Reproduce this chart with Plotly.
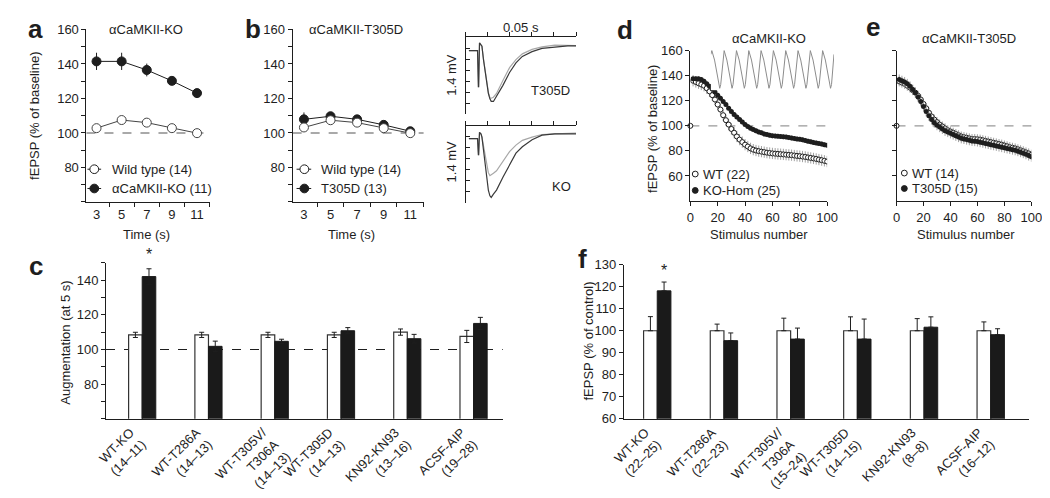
import plotly.graph_objects as go

W, H = 1050, 498
FONT = "Liberation Sans, Arial, Helvetica, sans-serif"
INK = "#1e1e1e"

# ---------------- panels a / b : augmentation vs time
time_s = [3, 5, 7, 9, 11]
a_wt = [102.8, 107.5, 106.0, 102.8, 99.9]
a_wt_err = [1.0, 1.0, 1.0, 1.0, 1.0]
a_ko = [141.5, 141.5, 136.5, 130.2, 123.1]
a_ko_err = [5.0, 5.0, 3.7, 1.5, 2.0]
b_wt = [103.2, 107.4, 106.0, 102.8, 99.9]
b_wt_err = [1.0, 1.0, 1.0, 1.0, 1.0]
b_t305d = [107.9, 109.7, 107.9, 104.7, 101.0]
b_t305d_err = [4.0, 1.5, 1.5, 1.5, 1.5]

# ---------------- panel b insets : example fEPSP traces (ms, mV)
trace_ms = [1.5, 5.4, 5.8, 5.9, 6.3, 7.0, 7.4, 8.1, 9.3, 10.3, 11.0, 11.6, 12.6,
            14.0, 16.9, 19.9, 22.8, 25.7, 30.1, 34.6, 40.4, 46.3, 50.0]
t305d_mut = [-0.245, -0.245, -0.90, -0.90, -0.105, -0.15, -0.163, -0.41, -0.76, -1.02,
             -1.12, -1.165, -1.167, -1.079, -0.875, -0.642, -0.467, -0.35, -0.263,
             -0.204, -0.175, -0.158, -0.158]
t305d_wt = [-0.245, -0.245, -0.90, -0.90, -0.105, -0.15, -0.163, -0.40, -0.74, -1.0,
            -1.10, -1.108, -1.09, -1.021, -0.788, -0.554, -0.408, -0.303, -0.222,
            -0.175, -0.146, -0.146, -0.152]
ko_mut = [-0.233, -0.233, -0.525, -0.525, -0.117, -0.15, -0.204, -0.438, -0.846, -1.167,
          -1.27, -1.30, -1.24, -1.167, -0.933, -0.70, -0.496, -0.379, -0.251, -0.169,
          -0.146, -0.146, -0.146]
ko_wt = [-0.233, -0.233, -0.525, -0.525, -0.117, -0.15, -0.204, -0.379, -0.671, -0.85,
         -0.904, -0.89, -0.86, -0.817, -0.642, -0.467, -0.35, -0.263, -0.204, -0.158,
         -0.146, -0.146, -0.134]

# ---------------- panels d / e : depression during a train
stim = list(range(2, 101, 2))
d_ko = [137.5, 137.5, 137.5, 137, 135.5, 133.5, 131.5, 129.5, 127, 124.5,
        122, 119.5, 117, 114, 111.5, 109, 107, 105, 103, 101,
        99.5, 98, 97, 96, 95, 94.5, 93.5, 93, 92.5, 92,
        91.8, 91.6, 91.5, 91.3, 91, 90.6, 90.2, 89.8, 89.5, 89.2,
        88.8, 88.3, 87.8, 87.3, 86.8, 86.4, 86, 85.5, 85, 84.5]
d_wt = [136, 135, 134, 133, 132, 130, 127.5, 124.5, 121, 117,
        113, 108.5, 104.5, 101, 97.5, 94.5, 91.5, 89, 87, 85,
        83.5, 82, 81, 80.3, 79.8, 79.4, 79, 78.6, 78.3, 78,
        77.8, 77.6, 77.4, 77.2, 77, 76.8, 76.6, 76.3, 76, 75.8,
        75.5, 75.2, 74.8, 74.4, 74, 73.6, 73.1, 72.6, 72.1, 71.5]
e_t305d = [137, 136, 135, 133.5, 131.5, 129, 126.5, 123, 119.5, 115.5,
           111.5, 108, 105, 102.5, 100.5, 99, 97.5, 96, 95, 94,
           93, 92, 91, 90, 89.5, 89, 88.5, 88, 87.8, 87.5,
           87, 86.5, 86, 85.5, 85, 84.5, 84, 83.5, 83, 82.5,
           82, 81.5, 81, 80.5, 79.8, 79, 78.2, 77.3, 76.3, 75.3]
e_wt = [135.5, 134.5, 133.5, 132, 130.5, 128.5, 126.5, 124, 121, 117.5,
        114, 110.5, 107.5, 105, 103, 101, 99.5, 98, 96.5, 95.5,
        94.5, 93.5, 92.5, 91.5, 91, 90.5, 90, 89.5, 89.5, 89.3,
        89, 88.5, 88, 87.5, 87, 86.5, 86, 85.5, 85, 84.3,
        83.7, 83, 82.5, 82, 81.3, 80.5, 79.7, 78.8, 78, 77]
d_ko_err = 2.0
d_wt_err = 4.5
e_err = 4.0
baseline_stim = [0]
baseline_val = [100]

# panel d inset : train of responses
spike_times = [0, 1, 2, 3, 4, 5, 6, 7, 8, 9]
spike_phase = [0.0, 0.08, 0.3, 0.55, 0.72, 0.8, 1.0]
spike_level = [0.9, 1.0, 0.75, 0.35, 0.0, 0.1, 0.9]

# ---------------- panels c / f : bar summaries
c_labels = ["WT-KO<br>(14–11)", "WT-T286A<br>(14–13)", "WT-T305V/<br>T306A<br>(14–13)",
            "WT-T305D<br>(14–13)", "KN92-KN93<br>(13–16)", "ACSF-AIP<br>(19–28)"]
c_white = [108.4, 108.4, 108.4, 108.4, 110.0, 107.5]
c_white_err = [1.5, 1.5, 1.5, 1.5, 1.8, 3.5]
c_black = [142.0, 101.8, 104.7, 110.8, 106.2, 115.0]
c_black_err = [4.5, 3.0, 1.2, 1.8, 2.5, 3.5]

f_labels = ["WT-KO<br>(22–25)", "WT-T286A<br>(22–23)", "WT-T305V/<br>T306A<br>(15–24)",
            "WT-T305D<br>(14–15)", "KN92-KN93<br>(8–8)", "ACSF-AIP<br>(16–12)"]
f_white = [100, 100, 100, 100, 100, 100]
f_white_err = [6.4, 3.0, 5.7, 6.3, 5.5, 4.0]
f_black = [118.1, 95.5, 96.2, 96.2, 101.6, 98.2]
f_black_err = [4.0, 3.5, 5.0, 9.1, 4.7, 2.7]
groups = list(range(len(c_labels)))


def xd(left, right):
    return [left / W, right / W]


def yd(top, bottom):
    return [1 - bottom / H, 1 - top / H]


def ax(**kw):
    base = dict(showline=True, linecolor=INK, linewidth=1, ticks="outside", ticklen=4,
                tickcolor=INK, showgrid=False, zeroline=False,
                tickfont=dict(family=FONT, size=13, color=INK))
    base.update(kw)
    return base


fig = go.Figure()


def time_course(xa, ya, wt, wt_err, mut, mut_err):
    fig.add_trace(go.Scatter(x=time_s, y=mut, mode="lines+markers", xaxis=xa, yaxis=ya,
                             line=dict(color=INK, width=1),
                             marker=dict(size=9, color=INK, line=dict(color=INK, width=1)),
                             error_y=dict(array=mut_err, color=INK, thickness=1, width=0)))
    fig.add_trace(go.Scatter(x=time_s, y=wt, mode="lines+markers", xaxis=xa, yaxis=ya,
                             line=dict(color="#444", width=1),
                             marker=dict(size=9, color="white", line=dict(color="#444", width=1)),
                             error_y=dict(array=wt_err, color="#444", thickness=1, width=0)))


time_course("x", "y", a_wt, a_wt_err, a_ko, a_ko_err)
time_course("x2", "y2", b_wt, b_wt_err, b_t305d, b_t305d_err)

for xa, ya, wt, mut in [("x3", "y3", t305d_wt, t305d_mut), ("x4", "y4", ko_wt, ko_mut)]:
    fig.add_trace(go.Scatter(x=trace_ms, y=wt, mode="lines", xaxis=xa, yaxis=ya,
                             line=dict(color="#a8a8a8", width=1.2)))
    fig.add_trace(go.Scatter(x=trace_ms, y=mut, mode="lines", xaxis=xa, yaxis=ya,
                             line=dict(color="#3a3a3a", width=1.2)))


def train(xa, ya, wt, wt_err, mut, mut_err):
    fig.add_trace(go.Scatter(x=stim, y=wt, mode="markers", xaxis=xa, yaxis=ya,
                             marker=dict(size=5, color="white", line=dict(color=INK, width=1)),
                             error_y=dict(type="constant", value=wt_err, color="#8a8a8a",
                                          thickness=0.8, width=0)))
    fig.add_trace(go.Scatter(x=stim, y=mut, mode="markers", xaxis=xa, yaxis=ya,
                             marker=dict(size=5, color=INK),
                             error_y=dict(type="constant", value=mut_err, color="#8a8a8a",
                                          thickness=0.8, width=0)))
    fig.add_trace(go.Scatter(x=baseline_stim, y=baseline_val, mode="markers", xaxis=xa,
                             yaxis=ya, cliponaxis=False,
                             marker=dict(size=5, color="white", line=dict(color=INK, width=1))))


train("x5", "y5", d_wt, d_wt_err, d_ko, d_ko_err)
train("x7", "y7", e_wt, e_err, e_t305d, e_err)

sx, sy = [], []
for t0 in spike_times:
    sx += [t0 + p for p in spike_phase]
    sy += spike_level
fig.add_trace(go.Scatter(x=sx, y=sy, mode="lines", xaxis="x6", yaxis="y6",
                         line=dict(color="#8c8c8c", width=1)))


def bars(xa, ya, white, white_err, black, black_err, sym):
    fig.add_trace(go.Bar(x=groups, y=white, width=0.205, offset=-0.205, xaxis=xa, yaxis=ya,
                         marker=dict(color="white", line=dict(color="#333", width=1.2)),
                         error_y=dict(array=white_err,
                                      arrayminus=white_err if sym else [0] * len(groups),
                                      color=INK, thickness=1, width=2.5)))
    fig.add_trace(go.Bar(x=groups, y=black, width=0.205, offset=0, xaxis=xa, yaxis=ya,
                         marker=dict(color="#1a1a1a", line=dict(color="#1a1a1a", width=1)),
                         error_y=dict(array=black_err,
                                      arrayminus=black_err if sym else [0] * len(groups),
                                      color=INK, thickness=1, width=2.5)))


bars("x8", "y8", c_white, c_white_err, c_black, c_black_err, True)
bars("x9", "y9", f_white, f_white_err, f_black, f_black_err, False)

# ---------------- axes
hidden = dict(visible=False)
fig.update_layout(
    xaxis=ax(domain=xd(67, 193), range=[2.2, 12], anchor="y", tickvals=time_s, ticklen=0,
             minor=dict(tickvals=[4, 6, 8, 10, 12], ticks="outside", ticklen=4, tickcolor=INK)),
    yaxis=ax(domain=yd(15, 194), range=[60, 160], anchor="x", tickvals=[80, 100, 120, 140, 160],
             minor=dict(dtick=10, ticks="outside", ticklen=4, tickcolor=INK)),
    xaxis2=ax(domain=xd(278, 412), range=[2.15, 12], anchor="y2", tickvals=time_s, ticklen=0,
              minor=dict(tickvals=[4, 6, 8, 10, 12], ticks="outside", ticklen=4, tickcolor=INK)),
    yaxis2=ax(domain=yd(15, 194), range=[60, 160], anchor="x2", tickvals=[80, 100, 120, 140, 160],
              minor=dict(dtick=10, ticks="outside", ticklen=4, tickcolor=INK)),
    xaxis3=ax(domain=xd(455, 568), range=[0, 50], anchor="y3", side="top", dtick=10,
              showticklabels=False),
    yaxis3=ax(domain=yd(23, 103), range=[-1.4, 0], anchor="x3", dtick=0.2, ticks="inside",
              showticklabels=False),
    xaxis4=ax(domain=xd(455, 568), range=[0, 50], anchor="y4", side="top", dtick=10,
              showticklabels=False),
    yaxis4=ax(domain=yd(115, 195), range=[-1.4, 0], anchor="x4", dtick=0.2, ticks="inside",
              showticklabels=False),
    xaxis5=ax(domain=xd(685, 825), range=[0, 100], anchor="y5", dtick=20),
    yaxis5=ax(domain=yd(37, 193), range=[40, 160], anchor="x5", tickvals=[60, 80, 100, 120, 140, 160]),
    xaxis6=dict(domain=xd(706, 832), range=[0, 10], anchor="y6", **hidden),
    yaxis6=dict(domain=yd(35, 78), range=[-0.05, 1.05], anchor="x6", **hidden),
    xaxis7=ax(domain=xd(896, 1034), range=[0, 100], anchor="y7", dtick=20),
    yaxis7=ax(domain=yd(37, 193), range=[40, 160], anchor="x7", tickvals=[60, 80, 100, 120, 140, 160],
              showticklabels=False),
    xaxis8=ax(domain=xd(87, 493), range=[-0.546, 5.44], anchor="y8", tickvals=groups,
              ticktext=c_labels, ticks="", tickangle=-45, ticklabelshift=-12),
    yaxis8=ax(domain=yd(257, 419), range=[60, 150], anchor="x8", tickvals=[80, 100, 120, 140],
              minor=dict(dtick=10, ticks="outside", ticklen=4, tickcolor=INK)),
    xaxis9=ax(domain=xd(617, 1032), range=[-0.5, 5.58], anchor="y9", tickvals=groups,
              ticktext=f_labels, ticks="", tickangle=-45, ticklabelshift=-12),
    yaxis9=ax(domain=yd(259, 419), range=[60, 130], anchor="x9", dtick=10, tick0=70),
)

# ---------------- reference lines at 100 %
dash_specs = [("x", "y", "#555", "dash"), ("x2", "y2", "#555", "dash"),
              ("x5", "y5", "#999", "dash"), ("x7", "y7", "#999", "dash"),
              ("x8", "y8", INK, "dash")]
for xa, ya, col, dash in dash_specs:
    fig.add_shape(type="line", xref=f"{xa} domain", yref=ya, x0=0, x1=1, y0=100, y1=100,
                  line=dict(color=col, width=1.1, dash=dash), layer="below")

# ---------------- texts
def txt(s, x, y, size=13, angle=0, xanchor="center", bold=False, color=INK):
    fig.add_annotation(text=f"<b>{s}</b>" if bold else s, x=x / W, y=1 - y / H,
                       xref="paper", yref="paper", showarrow=False, textangle=angle,
                       xanchor=xanchor, yanchor="middle",
                       font=dict(family=FONT, size=size, color=color))


for s, x, y in [("a", 15, 15), ("b", 237, 15), ("c", 15, 260), ("d", 618, 16),
                ("e", 872, 12), ("f", 575, 253)]:
    txt(s, x, y, size=26, bold=True)

txt("αCaMKII-KO", 128, 15)
txt("αCaMKII-T305D", 343, 15)
txt("αCaMKII-KO", 765, 24)
txt("αCaMKII-T305D", 970, 24)
txt("fEPSP (% of baseline)", 14, 105, angle=-90)
txt("fEPSP (% of baseline)", 647, 118, angle=-90)
txt("Time (s)", 128, 228)
txt("Time (s)", 338, 228)
txt("Stimulus number", 755, 228)
txt("Stimulus number", 967, 228)
txt("Augmentation (at 5 s)", 46, 340, angle=-90)
txt("fEPSP (% of control)", 581, 338, angle=-90)
txt("0.05 s", 512, 13)
txt("1.4 mV", 441, 62, angle=-90)
txt("1.4 mV", 441, 152, angle=-90)
txt("T305D", 542, 78)
txt("KO", 553, 178)

# significance stars above the KO bars
fig.add_annotation(text="*", x=0.1025, y=c_black[0] + c_black_err[0] + 2, xref="x8", yref="y8",
                   showarrow=False, yanchor="bottom", font=dict(family=FONT, size=16, color=INK))
fig.add_annotation(text="*", x=0.1025, y=f_black[0] + f_black_err[0] + 0.5, xref="x9", yref="y9",
                   showarrow=False, yanchor="bottom", font=dict(family=FONT, size=16, color=INK))

# ---------------- hand-drawn legends
def legend_row(x_line0, x_line1, xc, y, filled, label, x_text, with_line=True, r=4.5):
    if with_line:
        fig.add_shape(type="line", xref="paper", yref="paper", x0=x_line0 / W, x1=x_line1 / W,
                      y0=1 - y / H, y1=1 - y / H, line=dict(color=INK, width=1))
    fig.add_shape(type="circle", xref="paper", yref="paper", x0=(xc - r) / W, x1=(xc + r) / W,
                  y0=1 - (y + r) / H, y1=1 - (y - r) / H,
                  fillcolor=INK if filled else "white", line=dict(color=INK, width=1))
    txt(label, x_text, y, xanchor="left")


legend_row(68, 82, 75, 160, False, "Wild type (14)", 91)
legend_row(68, 82, 75, 180, True, "αCaMKII-KO (11)", 91)
legend_row(282, 297, 290, 160, False, "Wild type (14)", 305)
legend_row(282, 297, 290, 180, True, "T305D (13)", 305)
legend_row(0, 0, 690, 165, False, "WT (22)", 696, with_line=False, r=3)
legend_row(0, 0, 690, 182, True, "KO-Hom (25)", 696, with_line=False, r=3)
legend_row(0, 0, 904, 164, False, "WT (14)", 910, with_line=False, r=3)
legend_row(0, 0, 904, 180, True, "T305D (15)", 910, with_line=False, r=3)

fig.update_layout(width=W, height=H, margin=dict(l=0, r=0, t=0, b=0), showlegend=False,
                  plot_bgcolor="white", paper_bgcolor="white",
                  font=dict(family=FONT, size=13, color=INK))

fig.write_html("out.html")
